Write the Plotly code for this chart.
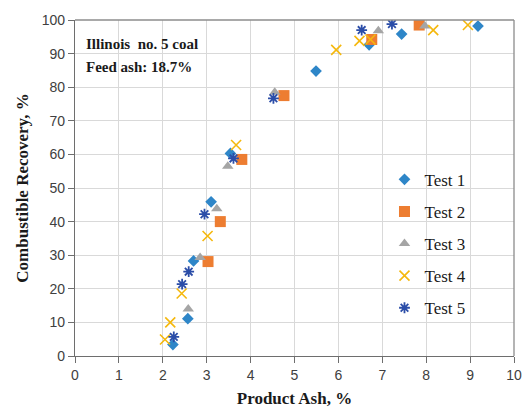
import plotly.graph_objects as go

# Product ash (%) and combustible recovery (%) for each flotation test
t1_ash = [2.23, 2.57, 2.70, 3.10, 3.54, 5.49, 6.70, 7.44, 9.18]
t1_rec = [3.4, 11.1, 28.3, 45.9, 60.3, 84.8, 92.6, 95.8, 98.2]

t2_ash = [3.03, 3.31, 3.80, 4.76, 6.76, 7.84]
t2_rec = [28.1, 40.0, 58.5, 77.5, 94.2, 98.5]

t3_ash = [2.58, 2.85, 3.23, 3.48, 4.55, 6.91, 7.97]
t3_rec = [14.0, 29.3, 43.8, 56.5, 78.5, 96.8, 98.2]

t4_ash = [2.05, 2.17, 2.43, 3.02, 3.67, 5.95, 6.48, 6.73, 8.16, 8.95]
t4_rec = [4.9, 10.0, 18.6, 35.7, 62.8, 91.1, 93.8, 94.2, 97.0, 98.5]

t5_ash = [2.25, 2.44, 2.59, 2.95, 3.61, 4.52, 6.53, 7.22]
t5_rec = [5.7, 21.4, 25.1, 42.2, 58.8, 76.7, 97.0, 98.8]

x_ticks = list(range(0, 11))
y_ticks = list(range(0, 101, 10))

series = [
    ("Test 1", t1_ash, t1_rec, dict(symbol="diamond", size=9, color="#2E86C8")),
    ("Test 2", t2_ash, t2_rec, dict(symbol="square", size=11, color="#ED7D31")),
    ("Test 3", t3_ash, t3_rec, dict(symbol="triangle-up", size=10, color="#A5A5A5")),
    ("Test 4", t4_ash, t4_rec, dict(symbol="x-thin-open", size=10, color="#F5B80E",
                                   line=dict(width=1.6, color="#F5B80E"))),
    ("Test 5", t5_ash, t5_rec, dict(symbol="asterisk-open", size=9, color="#2B4DA8",
                                   line=dict(width=1.8, color="#2B4DA8"))),
]

fig = go.Figure()
for i, (name, xs, ys, mk) in enumerate(series):
    fig.add_trace(go.Scatter(
        x=xs, y=ys, mode="markers", name=name, marker=mk,
        legendgroup=f"g{i}",
    ))

serif = "Liberation Serif"
sans = "Liberation Sans"

fig.update_layout(
    width=531, height=408,
    margin=dict(l=75, r=17, t=20, b=52),
    paper_bgcolor="white", plot_bgcolor="white",
    showlegend=True,
    legend=dict(
        x=0.705, y=0.578, xanchor="left", yanchor="top",
        font=dict(family=serif, size=17, color="#1a1a1a"),
        traceorder="grouped", tracegroupgap=7,
        bgcolor="rgba(0,0,0,0)", itemwidth=30,
    ),
    xaxis=dict(
        range=[0, 10], tickvals=x_ticks, ticktext=[str(v) for v in x_ticks],
        showgrid=True, gridcolor="#D9D9D9", gridwidth=1,
        showline=True, linecolor="#6e6e6e", linewidth=1.3,
        ticks="outside", ticklen=6, tickcolor="#6e6e6e",
        tickfont=dict(family=sans, size=14, color="#404040"),
        zeroline=False, mirror=False, automargin=False,
        title=dict(text="<b>Product Ash, %</b>",
                   font=dict(family=serif, size=17, color="#1a1a1a"), standoff=12),
    ),
    yaxis=dict(
        range=[0, 100], tickvals=y_ticks, ticktext=[str(v) for v in y_ticks],
        showgrid=True, gridcolor="#D9D9D9", gridwidth=1,
        showline=True, linecolor="#6e6e6e", linewidth=1.3,
        ticks="outside", ticklen=6, tickcolor="#6e6e6e",
        tickfont=dict(family=sans, size=14, color="#404040"),
        zeroline=False, automargin=False,
        title=dict(text="<b>Combustible Recovery, %</b>",
                   font=dict(family=serif, size=17, color="#1a1a1a"), standoff=8),
    ),
    annotations=[
        dict(x=0.02, y=0.93, xref="paper", yref="paper", xanchor="left", yanchor="middle",
             text="<b>Illinois  no. 5 coal</b>", showarrow=False,
             font=dict(family=serif, size=15, color="#1a1a1a")),
        dict(x=0.02, y=0.86, xref="paper", yref="paper", xanchor="left", yanchor="middle",
             text="<b>Feed ash: 18.7%</b>", showarrow=False,
             font=dict(family=serif, size=15, color="#1a1a1a")),
    ],
    shapes=[
        # light frame on the top and right of the plotting area
        dict(type="line", xref="paper", yref="paper", x0=0, x1=1, y0=1, y1=1,
             line=dict(color="#8c8c8c", width=1.3)),
        dict(type="line", xref="paper", yref="paper", x0=1, x1=1, y0=0, y1=1,
             line=dict(color="#8c8c8c", width=1.3)),
    ],
)

fig.write_html("out.html")
